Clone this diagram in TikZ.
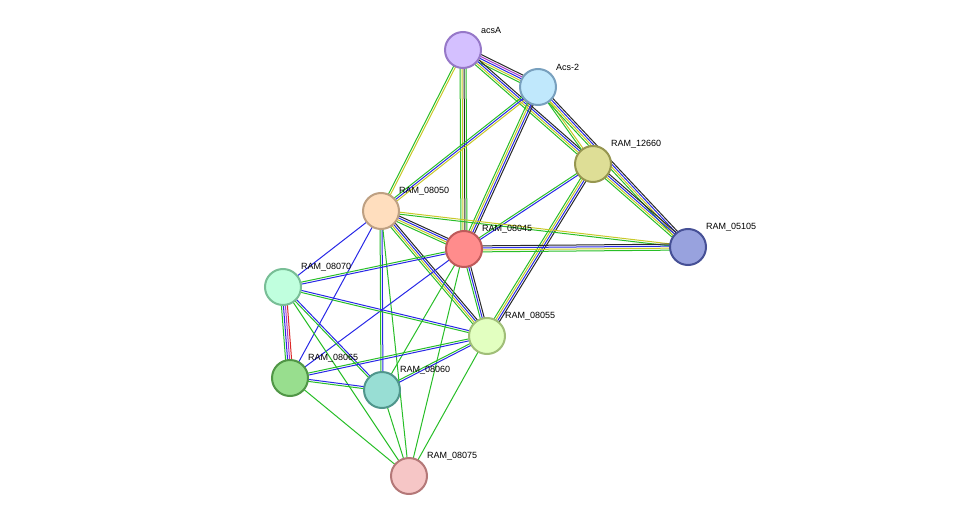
\documentclass[tikz,border=0pt]{standalone}
\usepackage{fontspec}
\setmainfont{Liberation Sans}
\usetikzlibrary{calc}
\definecolor{eg}{RGB}{40,190,40}
\definecolor{eb}{RGB}{40,40,230}
\definecolor{ek}{RGB}{40,40,40}
\definecolor{ey}{RGB}{200,200,40}
\definecolor{ep}{RGB}{170,60,200}
\definecolor{er}{RGB}{220,40,40}
\newcommand\medge[3]{\edef\mylist{#3}\foreach \c/\o in \mylist {\draw[line width=1pt,\c] ($(#1.center)!\o pt!90:(#2.center)$) -- ($(#2.center)!\o pt!-90:(#1.center)$);}}
\begin{document}
\begin{tikzpicture}[x=1pt,y=-1pt,
  nd/.style={circle,minimum size=36pt,inner sep=0pt,line width=2pt},
  lb/.style={font=\fontsize{9}{10}\selectfont,anchor=south west,inner sep=1pt}]
\useasboundingbox (0,0) rectangle (975,522);
\coordinate (acsA) at (463,50);
\coordinate (acs2) at (538,87);
\coordinate (r12660) at (593,164);
\coordinate (r05105) at (688,247);
\coordinate (r08050) at (381,211);
\coordinate (r08045) at (464,249);
\coordinate (r08070) at (283,287);
\coordinate (r08055) at (487,336);
\coordinate (r08065) at (290,378);
\coordinate (r08060) at (382,390);
\coordinate (r08075) at (409,476);
\def\F{eg/-3,ey/-1,eb/1,ek/3}
\def\G{eg/-1,ey/1}
\def\B{eg/-1,eb/1}
\medge{acsA}{acs2}{eg/-4,ey/-2,eb/0,ep/2,ek/4}
\medge{acsA}{r12660}{\F}
\medge{acsA}{r08050}{\G}
\medge{acsA}{r08045}{eg/-3,ey/-1,ek/1,eg/3}
\medge{acs2}{r12660}{\G}
\medge{acs2}{r05105}{\F}
\medge{acs2}{r08050}{eg/-2,eb/0,ey/2}
\medge{acs2}{r08045}{\F}
\medge{r12660}{r05105}{\F}
\medge{r12660}{r08045}{\B}
\medge{r12660}{r08055}{\F}
\medge{r08050}{r08045}{\F}
\medge{r08050}{r05105}{\G}
\medge{r08045}{r05105}{\F}
\medge{r08050}{r08070}{eb/0}
\medge{r08050}{r08055}{\F}
\medge{r08050}{r08065}{eb/0}
\medge{r08050}{r08060}{\B}
\medge{r08050}{r08075}{eg/0}
\medge{r08045}{r08070}{\B}
\medge{r08045}{r08055}{eg/-2,eb/0,ek/2}
\medge{r08045}{r08065}{eb/0}
\medge{r08045}{r08060}{eg/0}
\medge{r08045}{r08075}{eg/0}
\medge{r08070}{r08065}{eg/-3,eb/-1,ep/1,er/3}
\medge{r08070}{r08055}{\B}
\medge{r08070}{r08060}{\B}
\medge{r08070}{r08075}{eg/0}
\medge{r08055}{r08065}{\B}
\medge{r08055}{r08060}{\B}
\medge{r08055}{r08075}{eg/0}
\medge{r08065}{r08060}{\B}
\medge{r08065}{r08075}{eg/0}
\medge{r08060}{r08075}{eg/0}
\node[nd,fill={rgb,255:red,212;green,192;blue,255},draw={rgb,255:red,150;green,120;blue,200}] (nacsA) at (acsA) {};
\node[nd,fill={rgb,255:red,192;green,232;blue,252},draw={rgb,255:red,120;green,160;blue,190}] (nacs2) at (acs2) {};
\node[nd,fill={rgb,255:red,222;green,222;blue,150},draw={rgb,255:red,150;green,150;blue,80}] (n12660) at (r12660) {};
\node[nd,fill={rgb,255:red,152;green,162;blue,222},draw={rgb,255:red,70;green,80;blue,150}] (n05105) at (r05105) {};
\node[nd,fill={rgb,255:red,255;green,222;blue,190},draw={rgb,255:red,190;green,160;blue,130}] (n08050) at (r08050) {};
\node[nd,fill={rgb,255:red,255;green,140;blue,140},draw={rgb,255:red,190;green,90;blue,90}] (n08045) at (r08045) {};
\node[nd,fill={rgb,255:red,192;green,255;blue,222},draw={rgb,255:red,120;green,190;blue,150}] (n08070) at (r08070) {};
\node[nd,fill={rgb,255:red,226;green,255;blue,192},draw={rgb,255:red,160;green,190;blue,120}] (n08055) at (r08055) {};
\node[nd,fill={rgb,255:red,152;green,222;blue,142},draw={rgb,255:red,80;green,150;blue,70}] (n08065) at (r08065) {};
\node[nd,fill={rgb,255:red,152;green,222;blue,212},draw={rgb,255:red,80;green,150;blue,140}] (n08060) at (r08060) {};
\node[nd,fill={rgb,255:red,246;green,198;blue,198},draw={rgb,255:red,180;green,120;blue,120}] (n08075) at (r08075) {};
\node[lb] at ($(acsA)+(17,-15)$) {acsA};
\node[lb] at ($(acs2)+(17,-15)$) {Acs-2};
\node[lb] at ($(r12660)+(17,-15)$) {RAM\_12660};
\node[lb] at ($(r05105)+(17,-15)$) {RAM\_05105};
\node[lb] at ($(r08050)+(17,-15)$) {RAM\_08050};
\node[lb] at ($(r08045)+(17,-15)$) {RAM\_08045};
\node[lb] at ($(r08070)+(17,-15)$) {RAM\_08070};
\node[lb] at ($(r08055)+(17,-15)$) {RAM\_08055};
\node[lb] at ($(r08065)+(17,-15)$) {RAM\_08065};
\node[lb] at ($(r08060)+(17,-15)$) {RAM\_08060};
\node[lb] at ($(r08075)+(17,-15)$) {RAM\_08075};
\end{tikzpicture}
\end{document}
